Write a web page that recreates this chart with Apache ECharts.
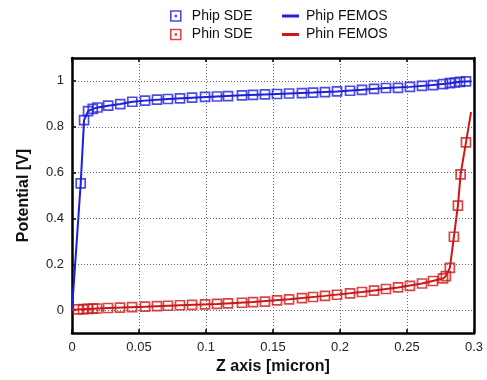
<!DOCTYPE html>
<html>
<head>
<meta charset="utf-8">
<script src="https://cdn.jsdelivr.net/npm/echarts@6/dist/echarts.min.js"></script>
<style>
  html, body { margin: 0; padding: 0; background: #fff; }
  #chart { width: 487px; height: 380px; }
</style>
</head>
<body>
<div id="chart"></div>
<script>
// Hole potential, SDE samples
const phipX = [0.0065, 0.009, 0.012, 0.0155, 0.019, 0.027, 0.036, 0.045, 0.0545, 0.0634,
  0.0716, 0.0806, 0.0896, 0.0993, 0.1082, 0.1164, 0.1269, 0.1351, 0.144, 0.153,
  0.162, 0.1716, 0.1799, 0.1888, 0.1978, 0.2075, 0.2164, 0.2254, 0.2343, 0.2433,
  0.2522, 0.2612, 0.2694, 0.2769, 0.282, 0.2858, 0.2896, 0.294];
const phipY = [0.553, 0.829, 0.868, 0.878, 0.884, 0.892, 0.899, 0.909, 0.914, 0.918,
  0.921, 0.924, 0.927, 0.930, 0.932, 0.934, 0.937, 0.939, 0.941, 0.943,
  0.945, 0.947, 0.949, 0.951, 0.954, 0.957, 0.961, 0.965, 0.969, 0.970,
  0.974, 0.978, 0.982, 0.986, 0.990, 0.993, 0.996, 0.998];

// Electron potential, SDE samples
const phinX = [0.0045, 0.0082, 0.0119, 0.0157, 0.0187, 0.0269, 0.0358, 0.0448, 0.0545, 0.0634,
  0.0716, 0.0806, 0.0896, 0.0993, 0.1082, 0.1164, 0.1269, 0.1351, 0.144, 0.153,
  0.162, 0.1716, 0.1799, 0.1888, 0.1978, 0.2075, 0.2164, 0.2254, 0.2343, 0.2433,
  0.2522, 0.2612, 0.2694, 0.2769, 0.279, 0.282, 0.285, 0.288, 0.290, 0.294];
const phinY = [0.003, 0.004, 0.005, 0.006, 0.007, 0.009, 0.011, 0.013, 0.015, 0.017,
  0.019, 0.021, 0.023, 0.025, 0.027, 0.029, 0.032, 0.035, 0.037, 0.042,
  0.047, 0.052, 0.057, 0.062, 0.067, 0.073, 0.079, 0.085, 0.092, 0.099,
  0.106, 0.116, 0.127, 0.138, 0.148, 0.184, 0.320, 0.456, 0.592, 0.732];

// FEMOS curves
const phipFemX = [0, 0.0065, 0.009, 0.012, 0.0155, 0.019, 0.027, 0.036, 0.045, 0.0545, 0.0716,
  0.0896, 0.1082, 0.1269, 0.144, 0.162, 0.1799, 0.1978, 0.2164, 0.2343, 0.2522,
  0.2694, 0.282, 0.2896, 0.298];
const phipFemY = [0, 0.553, 0.829, 0.868, 0.878, 0.884, 0.892, 0.899, 0.909, 0.914, 0.921,
  0.927, 0.932, 0.937, 0.941, 0.945, 0.949, 0.954, 0.961, 0.969, 0.974,
  0.982, 0.990, 0.996, 0.999];
const phinFemX = [0, 0.0045, 0.0269, 0.0545, 0.0806, 0.1082, 0.1351, 0.162, 0.1888, 0.2164,
  0.2433, 0.2612, 0.2769, 0.279, 0.282, 0.285, 0.288, 0.290, 0.294, 0.2978];
const phinFemY = [0, 0.003, 0.009, 0.015, 0.021, 0.027, 0.035, 0.047, 0.062, 0.079,
  0.099, 0.116, 0.138, 0.148, 0.184, 0.320, 0.456, 0.592, 0.732, 0.864];

const xTicks = [0, 0.05, 0.1, 0.15, 0.2, 0.25, 0.3];
const yTicks = [0, 0.2, 0.4, 0.6, 0.8, 1];

const BLUE = '#1e1edc';
const RED = '#cc1818';
const FONT = 'Liberation Sans';

const zip = (xs, ys) => xs.map((x, i) => [x, ys[i]]);
// outlined square with a small centre dot
const boxIcon = 'path://M0,0H10V10H0Z M4.6,4.6H5.4V5.4H4.6Z';

const gridLine = { show: true, lineStyle: { color: '#666', width: 1, type: [1, 2] } };

const chart = echarts.init(document.getElementById('chart'), null, { renderer: 'canvas' });
chart.setOption({
  animation: false,
  backgroundColor: '#fff',
  textStyle: { fontFamily: FONT },
  legend: [
    {
      orient: 'vertical', left: 165, top: 4, itemGap: 4.5,
      itemWidth: 10, itemHeight: 10,
      textStyle: { fontSize: 14, color: '#111', fontFamily: FONT, padding: [0, 0, 0, 6] },
      data: [
        { name: 'Phip SDE', icon: boxIcon,
          itemStyle: { color: 'rgba(255,255,255,0)', borderColor: BLUE, borderWidth: 1.6 } },
        { name: 'Phin SDE', icon: boxIcon,
          itemStyle: { color: 'rgba(255,255,255,0)', borderColor: RED, borderWidth: 1.6 } }
      ]
    },
    {
      orient: 'vertical', left: 277, top: 4, itemGap: 4.5,
      itemWidth: 17, itemHeight: 3,
      textStyle: { fontSize: 14, color: '#111', fontFamily: FONT, padding: [0, 0, 0, 2] },
      data: [
        { name: 'Phip FEMOS', icon: 'rect' },
        { name: 'Phin FEMOS', icon: 'rect' }
      ]
    }
  ],
  grid: { left: 72, right: 13, top: 58, bottom: 47, containLabel: false },
  xAxis: [
    {
      type: 'value', min: 0, max: 0.3, interval: 0.05,
      name: 'Z axis [micron]', nameLocation: 'middle', nameGap: 22,
      nameTextStyle: { fontSize: 16, fontWeight: 'bold', color: '#111', fontFamily: FONT },
      axisLine: { show: true, onZero: false, lineStyle: { color: '#000', width: 2.5 } },
      axisTick: { show: true, inside: true, length: 4, lineStyle: { color: '#000', width: 1.5 } },
      axisLabel: { fontSize: 13, color: '#222', margin: 8, fontFamily: FONT,
        formatter: v => xTicks.includes(+v.toFixed(2)) ? String(+v.toFixed(2)) : '' },
      splitLine: gridLine
    },
    {
      type: 'value', position: 'top', min: 0, max: 0.3, interval: 0.05,
      axisLine: { show: true, onZero: false, lineStyle: { color: '#000', width: 2.5 } },
      axisTick: { show: true, inside: true, length: 4, lineStyle: { color: '#000', width: 1.5 } },
      axisLabel: { show: false },
      splitLine: { show: false }
    }
  ],
  yAxis: [
    {
      type: 'value', min: -0.1, max: 1.1,
      name: 'Potential [V]', nameLocation: 'middle', nameGap: 40, nameRotate: 90,
      nameTextStyle: { fontSize: 16, fontWeight: 'bold', color: '#111', fontFamily: FONT },
      axisLine: { show: true, onZero: false, lineStyle: { color: '#000', width: 2.5 } },
      axisTick: { show: true, inside: true, length: 4, customValues: yTicks,
        lineStyle: { color: '#000', width: 1.5 } },
      axisLabel: { fontSize: 13, color: '#222', margin: 8, fontFamily: FONT,
        customValues: yTicks, formatter: v => String(+v.toFixed(2)) },
      splitLine: gridLine
    },
    {
      type: 'value', position: 'right', min: -0.1, max: 1.1,
      axisLine: { show: true, onZero: false, lineStyle: { color: '#000', width: 2.5 } },
      axisTick: { show: false },
      axisLabel: { show: false },
      splitLine: { show: false }
    }
  ],
  series: [
    {
      name: 'Phip SDE', type: 'scatter', xAxisIndex: 0, yAxisIndex: 0,
      symbol: 'rect', symbolSize: 9, z: 2,
      itemStyle: { color: 'rgba(255,255,255,0)', borderColor: BLUE, borderWidth: 1.7 },
      data: zip(phipX, phipY)
    },
    {
      name: 'Phin SDE', type: 'scatter', xAxisIndex: 0, yAxisIndex: 0,
      symbol: 'rect', symbolSize: 9, z: 2,
      itemStyle: { color: 'rgba(255,255,255,0)', borderColor: RED, borderWidth: 1.7 },
      data: zip(phinX, phinY)
    },
    {
      name: 'Phip FEMOS', type: 'line', xAxisIndex: 0, yAxisIndex: 0,
      showSymbol: false, symbol: 'none', z: 3,
      itemStyle: { color: BLUE },
      lineStyle: { color: BLUE, width: 2 },
      data: zip(phipFemX, phipFemY)
    },
    {
      name: 'Phin FEMOS', type: 'line', xAxisIndex: 0, yAxisIndex: 0,
      showSymbol: false, symbol: 'none', z: 3,
      itemStyle: { color: RED },
      lineStyle: { color: RED, width: 2 },
      data: zip(phinFemX, phinFemY)
    }
  ]
});
</script>
</body>
</html>
